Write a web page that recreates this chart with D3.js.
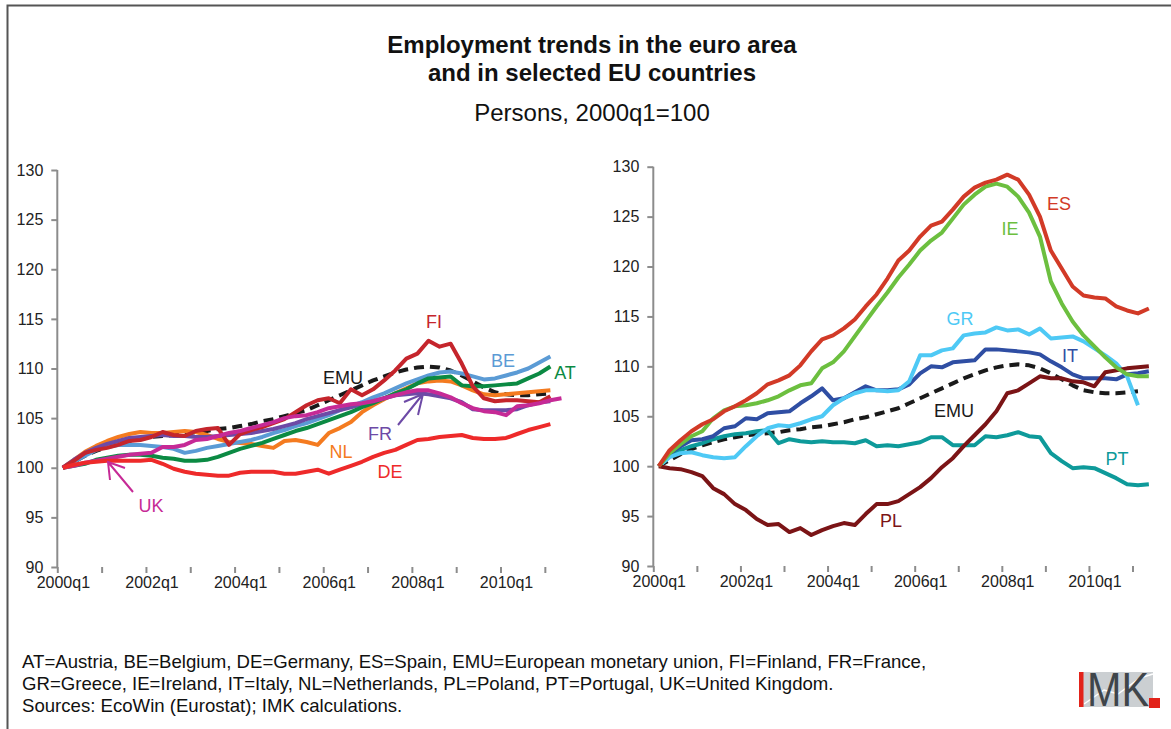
<!DOCTYPE html>
<html>
<head>
<meta charset="utf-8">
<script src="https://cdn.jsdelivr.net/npm/d3@7"></script>
<style>
  body { margin: 0; background: #fff; }
  svg { display: block; font-family: Arial, "Liberation Sans", sans-serif; }
</style>
</head>
<body>
<svg id="chart" width="1171" height="729"></svg>
<script>
// quarters 2000q1 .. 2011q2
var years = [2000, 2001, 2002, 2003, 2004, 2005, 2006, 2007, 2008, 2009, 2010, 2011];
var tickLabels = ["2000q1", "2002q1", "2004q1", "2006q1", "2008q1", "2010q1"];
var yTicks = [90, 95, 100, 105, 110, 115, 120, 125, 130];

// euro area (both panels)
var EMU = [100, 100.6, 101.2, 101.7, 102.1, 102.4, 102.7, 102.9, 103.1, 103.2, 103.3, 103.4, 103.6, 103.7, 103.9, 104.0, 104.2, 104.4, 104.7, 104.9, 105.2, 105.5, 105.8, 106.3, 106.8, 107.3, 107.8, 108.3, 108.8, 109.2, 109.6, 109.9, 110.1, 110.2, 110.1, 109.8, 109.3, 108.7, 108.1, 107.6, 107.4, 107.3, 107.3, 107.4, 107.5];

// left panel
var AT = [100, 100.2, 100.4, 100.8, 101.0, 101.2, 101.3, 101.3, 101.2, 101.0, 100.9, 100.7, 100.7, 100.8, 101.1, 101.5, 101.9, 102.2, 102.5, 102.9, 103.3, 103.7, 104.0, 104.4, 104.8, 105.2, 105.6, 106.1, 106.5, 107.0, 107.5, 107.9, 108.5, 109.0, 109.1, 109.2, 108.3, 108.2, 108.2, 108.3, 108.4, 108.5, 109.0, 109.5, 110.2];
var BE = [100, 100.6, 101.2, 101.8, 102.1, 102.3, 102.3, 102.3, 102.2, 102.1, 101.9, 101.5, 101.7, 102.0, 102.2, 102.4, 102.6, 102.8, 103.1, 103.5, 103.8, 104.2, 104.5, 104.9, 105.3, 105.8, 106.2, 106.6, 107.1, 107.5, 108.0, 108.5, 108.9, 109.3, 109.6, 109.7, 109.5, 109.2, 108.9, 109.0, 109.3, 109.6, 110.0, 110.6, 111.2];
var DE = [100, 100.3, 100.5, 100.6, 100.7, 100.7, 100.7, 100.7, 100.8, 100.4, 99.9, 99.6, 99.4, 99.3, 99.2, 99.2, 99.5, 99.6, 99.6, 99.6, 99.4, 99.4, 99.6, 99.8, 99.4, 99.8, 100.2, 100.6, 101.1, 101.5, 101.8, 102.3, 102.8, 102.9, 103.1, 103.2, 103.3, 103.0, 102.9, 102.9, 103.0, 103.4, 103.8, 104.1, 104.4];
var FI = [100, 100.7, 101.5, 101.8, 102.0, 102.3, 102.7, 102.8, 103.1, 103.6, 103.3, 103.2, 103.7, 103.9, 104.0, 102.3, 103.4, 103.8, 104.1, 104.5, 104.9, 105.6, 106.3, 106.8, 107.0, 106.5, 107.9, 107.3, 107.9, 108.8, 109.8, 111.0, 111.5, 112.8, 112.2, 112.5, 110.5, 108.2, 107.0, 106.7, 106.8, 106.8, 106.7, 106.6, 107.2];
var FR = [100, 100.8, 101.5, 102.0, 102.4, 102.7, 103.0, 103.1, 103.2, 103.3, 103.2, 103.2, 103.1, 103.1, 103.2, 103.3, 103.4, 103.5, 103.7, 103.9, 104.2, 104.5, 104.9, 105.2, 105.5, 105.8, 106.1, 106.4, 106.7, 107.0, 107.3, 107.4, 107.5, 107.4, 107.2, 107.0, 106.6, 105.9, 105.8, 105.8, 105.8, 105.9, 106.3, 106.6, 106.7];
var NL = [100, 100.8, 101.6, 102.2, 102.7, 103.1, 103.4, 103.6, 103.5, 103.5, 103.6, 103.7, 103.6, 103.3, 102.9, 102.6, 102.5, 102.4, 102.2, 102.0, 102.7, 102.8, 102.6, 102.3, 103.5, 104.0, 104.6, 105.6, 106.3, 106.9, 107.5, 108.0, 108.5, 108.7, 108.8, 108.7, 108.3, 107.8, 107.4, 107.3, 107.4, 107.5, 107.6, 107.7, 107.8];
var UK = [100, 100.2, 100.5, 100.7, 100.9, 101.1, 101.3, 101.4, 101.5, 102.1, 102.1, 102.3, 102.8, 102.9, 103.2, 103.5, 103.7, 104.0, 104.3, 104.6, 105.0, 105.2, 105.3, 105.6, 106.0, 106.2, 106.4, 106.5, 106.7, 107.0, 107.3, 107.6, 107.8, 107.8, 107.5, 107.1, 106.5, 106.0, 105.7, 105.6, 105.3, 106.2, 106.3, 106.5, 106.8, 107.0];

// right panel
var ES = [100, 101.6, 102.6, 103.5, 104.2, 104.7, 105.5, 106.0, 106.6, 107.3, 108.2, 108.6, 109.1, 110.1, 111.5, 112.7, 113.1, 113.8, 114.7, 116.0, 117.2, 118.8, 120.6, 121.6, 123.0, 124.1, 124.5, 125.7, 127.0, 127.9, 128.4, 128.7, 129.2, 128.7, 127.2, 125.0, 121.6, 119.8, 118.0, 117.1, 116.9, 116.8, 116.0, 115.6, 115.3, 115.8];
var IE = [100, 101.3, 102.2, 103.0, 103.5, 104.8, 105.6, 106.0, 106.1, 106.3, 106.6, 107.0, 107.6, 108.1, 108.3, 109.8, 110.4, 111.5, 113.0, 114.5, 116.0, 117.4, 118.9, 120.2, 121.6, 122.6, 123.4, 124.8, 126.2, 127.2, 128.0, 128.3, 128.0, 127.0, 125.4, 123.0, 118.5, 116.3, 114.5, 113.1, 112.0, 110.9, 109.9, 109.2, 109.0, 109.0];
var GR = [100, 100.9, 101.3, 101.4, 101.1, 100.9, 100.8, 100.9, 102.0, 103.0, 103.8, 104.1, 104.0, 104.3, 104.7, 105.0, 106.1, 106.8, 107.3, 107.6, 107.6, 107.5, 107.6, 108.5, 111.1, 111.1, 111.6, 111.8, 113.1, 113.3, 113.4, 113.9, 113.6, 113.7, 113.2, 113.8, 112.8, 112.9, 113.0, 112.5, 111.8, 111.1, 110.3, 109.0, 106.1];
var IT = [100, 101.3, 102.0, 102.6, 102.7, 103.0, 103.8, 104.0, 104.8, 104.7, 105.3, 105.4, 105.5, 106.3, 107.0, 107.8, 106.6, 106.8, 107.4, 108.0, 107.6, 107.6, 107.7, 108.2, 109.3, 110.0, 109.9, 110.4, 110.5, 110.6, 111.7, 111.7, 111.6, 111.5, 111.4, 111.2, 110.5, 109.9, 109.2, 108.8, 108.8, 108.8, 108.7, 109.2, 109.3, 109.5];
var PL = [100, 99.8, 99.7, 99.4, 99.0, 97.8, 97.2, 96.2, 95.6, 94.7, 94.1, 94.2, 93.4, 93.8, 93.1, 93.6, 94.0, 94.3, 94.1, 95.2, 96.2, 96.2, 96.5, 97.2, 97.9, 98.8, 99.9, 100.8, 102.0, 103.1, 104.2, 105.5, 107.3, 107.6, 108.3, 109.0, 108.8, 108.8, 108.5, 108.4, 108.0, 109.4, 109.6, 109.8, 109.9, 110.0];
var PT = [100, 101.0, 101.6, 102.0, 102.3, 102.7, 103.0, 103.2, 103.3, 103.5, 103.6, 102.3, 102.7, 102.5, 102.4, 102.5, 102.4, 102.4, 102.3, 102.6, 102.0, 102.1, 102.0, 102.2, 102.4, 102.9, 102.9, 102.1, 102.1, 102.1, 103.0, 102.9, 103.1, 103.4, 103.0, 102.9, 101.3, 100.5, 99.8, 99.9, 99.8, 99.3, 98.8, 98.2, 98.1, 98.2];

var footnotes = [
  "AT=Austria, BE=Belgium, DE=Germany, ES=Spain, EMU=European monetary union, FI=Finland, FR=France,",
  "GR=Greece, IE=Ireland, IT=Italy, NL=Netherlands, PL=Poland, PT=Portugal, UK=United Kingdom.",
  "Sources: EcoWin (Eurostat); IMK calculations."
];

var quarters = [];
years.forEach(function(y){ [1, 2, 3, 4].forEach(function(q){ quarters.push(y + "q" + q); }); });
quarters = quarters.slice(0, 46);

var svg = d3.select("#chart");

// frame
svg.append("path")
  .attr("d", "M7.5 729 L7.5 5.5 L1171 5.5")
  .attr("fill", "none")
  .attr("stroke", "#555")
  .attr("stroke-width", 2);

// titles
var titles = svg.append("g").attr("text-anchor", "middle").attr("fill", "#111");
titles.append("text").attr("x", 592).attr("y", 53).attr("font-size", 24).attr("font-weight", "bold")
  .text("Employment trends in the euro area");
titles.append("text").attr("x", 592).attr("y", 81).attr("font-size", 24).attr("font-weight", "bold")
  .text("and in selected EU countries");
titles.append("text").attr("x", 592).attr("y", 121).attr("font-size", 24)
  .text("Persons, 2000q1=100");

function renderPanel(opts){
  var x = d3.scaleLinear().domain([0, quarters.length]).range([opts.x0, opts.x1]);
  var y = d3.scaleLinear().domain([90, 130]).range([opts.y90, opts.y130]);
  var g = svg.append("g");

  var yAxis = g.append("g")
    .attr("transform", "translate(" + opts.x0 + ",0)")
    .call(d3.axisLeft(y).tickValues(yTicks).tickSize(6).tickPadding(8));
  var xTickAxis = g.append("g")
    .attr("transform", "translate(0," + opts.y90 + ")")
    .call(d3.axisBottom(x).tickValues(d3.range(0, 45, 4)).tickSize(6).tickFormat(""));
  var xLabelAxis = g.append("g")
    .attr("transform", "translate(0," + opts.y90 + ")")
    .call(d3.axisBottom(x)
      .tickValues(tickLabels.map(function(t){ return quarters.indexOf(t) + 0.5; }))
      .tickSize(0).tickPadding(10)
      .tickFormat(function(d){ return quarters[Math.floor(d)]; }));
  xLabelAxis.select(".domain").remove();

  [yAxis, xTickAxis].forEach(function(a){
    a.select(".domain").attr("stroke", "#8c8c8c").attr("stroke-width", 2)
      .attr("d", a === yAxis
        ? "M0," + opts.y130 + "V" + opts.y90
        : "M" + opts.x0 + "," + opts.y90 + "H" + opts.x1);
    a.selectAll(".tick line").attr("stroke", "#8c8c8c").attr("stroke-width", 2);
  });
  g.selectAll(".tick text").attr("font-size", 16).attr("fill", "#222")
    .attr("font-family", "Arial, 'Liberation Sans', sans-serif");

  var line = d3.line()
    .x(function(d, i){ return x(i + 0.5); })
    .y(function(d){ return y(d); });

  g.selectAll(".series")
    .data(opts.series)
    .enter()
    .append("path")
    .attr("class", "series")
    .attr("d", function(element){ return line(element.values); })
    .attr("fill", "none")
    .attr("stroke", function(element){ return element.color; })
    .attr("stroke-width", 4)
    .attr("stroke-dasharray", function(element){ return element.dashed ? "10,6" : null; })
    .attr("stroke-linejoin", "round");

  g.selectAll(".lbl")
    .data(opts.labels)
    .enter()
    .append("text")
    .attr("class", "lbl")
    .attr("x", function(element){ return element.x; })
    .attr("y", function(element){ return element.y; })
    .attr("text-anchor", "middle")
    .attr("font-size", 18)
    .attr("fill", function(element){ return element.color; })
    .text(function(element){ return element.name; });

  (opts.arrows || []).forEach(function(a){
    g.append("path")
      .attr("d", "M" + a.from[0] + " " + a.from[1] + " L" + a.to[0] + " " + a.to[1]
        + " M" + a.b1[0] + " " + a.b1[1] + " L" + a.to[0] + " " + a.to[1] + " L" + a.b2[0] + " " + a.b2[1])
      .attr("fill", "none")
      .attr("stroke", a.color)
      .attr("stroke-width", 2);
  });
}

renderPanel({
  x0: 57.3, x1: 567, y90: 567, y130: 170,
  series: [
    {name: "EMU", values: EMU, color: "#1a1a1a", dashed: true},
    {name: "NL", values: NL, color: "#f47b20"},
    {name: "BE", values: BE, color: "#5b9bd5"},
    {name: "FR", values: FR, color: "#6d4aa6"},
    {name: "AT", values: AT, color: "#0b8a43"},
    {name: "FI", values: FI, color: "#c5252c"},
    {name: "UK", values: UK, color: "#c62a96"},
    {name: "DE", values: DE, color: "#ee2a2a"}
  ],
  labels: [
    {name: "FI", x: 434, y: 328, color: "#c5252c"},
    {name: "BE", x: 503, y: 367, color: "#5b9bd5"},
    {name: "AT", x: 565, y: 379, color: "#0b8a43"},
    {name: "EMU", x: 343, y: 384, color: "#1a1a1a"},
    {name: "FR", x: 380, y: 440, color: "#6d4aa6"},
    {name: "NL", x: 341, y: 458, color: "#f47b20"},
    {name: "DE", x: 390, y: 478, color: "#ee2a2a"},
    {name: "UK", x: 151, y: 512, color: "#c62a96"}
  ],
  arrows: [
    {from: [133, 492], to: [108, 462], b1: [110, 480], b2: [125, 468], color: "#c62a96"},
    {from: [398, 425], to: [423, 394], b1: [418, 415], b2: [404, 402], color: "#6d4aa6"}
  ]
});

renderPanel({
  x0: 653.3, x1: 1154.3, y90: 566, y130: 166.7,
  series: [
    {name: "EMU", values: EMU, color: "#1a1a1a", dashed: true},
    {name: "PT", values: PT, color: "#0e9a9a"},
    {name: "IT", values: IT, color: "#2f4ea3"},
    {name: "GR", values: GR, color: "#4ec9f5"},
    {name: "PL", values: PL, color: "#7b1416"},
    {name: "IE", values: IE, color: "#6cbf3f"},
    {name: "ES", values: ES, color: "#d23a27"}
  ],
  labels: [
    {name: "ES", x: 1059, y: 210, color: "#d23a27"},
    {name: "IE", x: 1010, y: 235, color: "#6cbf3f"},
    {name: "GR", x: 960, y: 325, color: "#4ec9f5"},
    {name: "IT", x: 1070, y: 362, color: "#2f4ea3"},
    {name: "EMU", x: 954, y: 417, color: "#1a1a1a"},
    {name: "PT", x: 1117, y: 465, color: "#0e9a9a"},
    {name: "PL", x: 891, y: 527, color: "#7b1416"}
  ]
});

// footer
svg.append("g").selectAll("text")
  .data(footnotes)
  .enter()
  .append("text")
  .attr("x", 22)
  .attr("y", function(d, i){ return 668 + i * 22; })
  .attr("font-size", 18.6)
  .attr("fill", "#111")
  .text(function(d){ return d; });

// IMK logo
var logo = svg.append("g");
logo.append("rect").attr("x", 1079).attr("y", 672).attr("width", 74).attr("height", 35).attr("fill", "#cbcfd2");
logo.append("path").attr("d", "M1084 704 L1104 690 L1118 694 L1140 678 L1153 674")
  .attr("fill", "none").attr("stroke", "#fff").attr("stroke-width", 1.5);
logo.append("rect").attr("x", 1079).attr("y", 672).attr("width", 4.5).attr("height", 35).attr("fill", "#e2231a");
logo.append("text").attr("x", 1087).attr("y", 706).attr("font-size", 48)
  .attr("textLength", 62).attr("lengthAdjust", "spacingAndGlyphs")
  .attr("fill", "#3f454a").text("MK");
logo.append("rect").attr("x", 1149).attr("y", 698).attr("width", 11).attr("height", 10).attr("fill", "#e2231a");
</script>
</body>
</html>
